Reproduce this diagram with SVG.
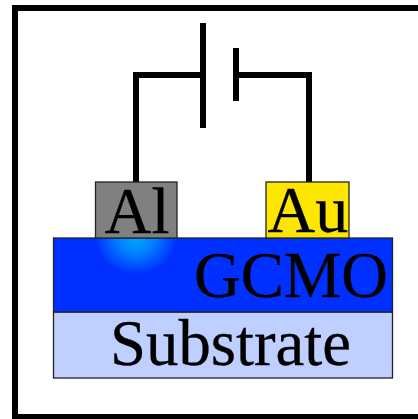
<svg xmlns="http://www.w3.org/2000/svg" width="418" height="419" viewBox="0 0 418 419">
<style>
.w{fill:none;stroke:#000;stroke-width:6;stroke-linecap:butt;stroke-linejoin:miter}
.b{stroke:#222;stroke-width:1.3}
text{font-family:"Liberation Serif","Times New Roman",serif;font-size:66px;fill:#000;stroke:#000;stroke-width:0.3}
</style>
<defs>
<radialGradient id="glow" gradientUnits="userSpaceOnUse" cx="0" cy="0" r="1" gradientTransform="translate(136 238) scale(41 36)">
<stop offset="0" stop-color="#00a8ff"/>
<stop offset="0.45" stop-color="#0080ff"/>
<stop offset="1" stop-color="#0030ff"/>
</radialGradient>
</defs>
<rect width="418" height="419" fill="#fff"/>
<rect id="frame" x="15" y="8" width="410" height="409" class="w"/>
<g id="connectors">
<path class="w" d="M136 182V75H203"/>
<path class="w" d="M309 182V75H236"/>
<path class="w" d="M203 23V128"/>
<path class="w" d="M236 48V101"/>
</g>
<g id="substrate">
<rect class="b" x="53.5" y="312" width="339" height="66" fill="#bfcfff"/>
<text x="110" y="365" textLength="241" lengthAdjust="spacingAndGlyphs">Substrate</text>
</g>
<g id="gcmo">
<rect class="b" x="53.5" y="238" width="339" height="74" fill="#0030ff"/>
<path d="M95 238.6H177V275H95Z" fill="url(#glow)"/>
<text x="194" y="297" textLength="194" lengthAdjust="spacingAndGlyphs">GCMO</text>
</g>
<g id="al">
<rect class="b" x="95.5" y="182" width="81.5" height="56" fill="#808080"/>
<text x="104.5" y="233" textLength="65" lengthAdjust="spacingAndGlyphs">Al</text>
</g>
<g id="au">
<rect class="b" x="266" y="182" width="83" height="56" fill="#ffe600"/>
<text x="267.5" y="232">Au</text>
</g>
</svg>
